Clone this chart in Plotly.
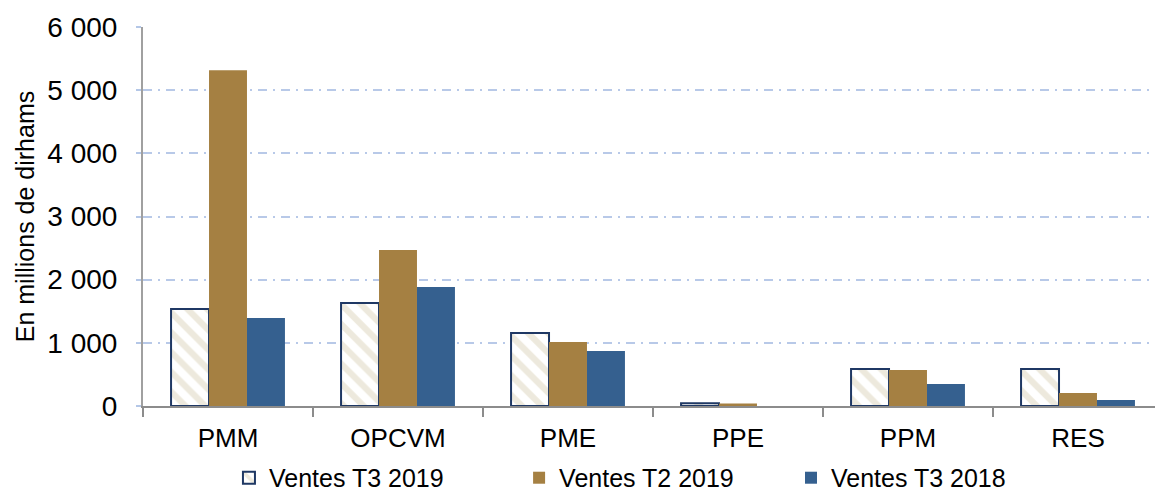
import plotly.graph_objects as go

categories = ["PMM", "OPCVM", "PME", "PPE", "PPM", "RES"]
ventes_t3_2019 = [1535, 1630, 1155, 45, 585, 585]
ventes_t2_2019 = [5316, 2468, 1013, 40, 570, 205]
ventes_t3_2018 = [1392, 1883, 870, 0, 348, 95]
y_ticks = [0, 1000, 2000, 3000, 4000, 5000, 6000]

FONT = "Liberation Sans, Arial, sans-serif"

fig = go.Figure()
fig.add_trace(go.Bar(
    x=categories, y=ventes_t3_2019, name="Ventes T3 2019", legend="legend",
    marker=dict(color="white", line=dict(color="#1f3864", width=2),
                pattern=dict(shape="\\", fgcolor="#dcd4bb", bgcolor="white", size=14, solidity=0.45)),
))
fig.add_trace(go.Bar(
    x=categories, y=ventes_t2_2019, name="Ventes T2 2019", legend="legend2",
    marker=dict(color="#a58042", line=dict(width=0)),
))
fig.add_trace(go.Bar(
    x=categories, y=ventes_t3_2018, name="Ventes T3 2018", legend="legend3",
    marker=dict(color="#35608f", line=dict(width=0)),
))

leg_common = dict(orientation="h", xanchor="left", xref="container",
                  yref="container", y=0.029, yanchor="middle",
                  font=dict(size=25), itemwidth=30, bgcolor="rgba(0,0,0,0)")

fig.update_layout(
    width=1155, height=484,
    margin=dict(l=135, r=0, t=19, b=86, autoexpand=False),
    plot_bgcolor="white", paper_bgcolor="white",
    barmode="group", bargap=0.33, bargroupgap=0,
    separators=", ",
    font=dict(family=FONT, size=24, color="#000000"),
    showlegend=True,
    legend=dict(x=0.1913, **leg_common),
    legend2=dict(x=0.4425, **leg_common),
    legend3=dict(x=0.6779, **leg_common),
    xaxis=dict(
        showline=True, linecolor="#8c8c8c", linewidth=2, automargin=False,
        ticks="outside", tickson="boundaries", ticklen=9, tickcolor="#8c8c8c", tickwidth=2,
        tickfont=dict(size=26), showgrid=False, ticklabelstandoff=8,
    ),
    yaxis=dict(
        range=[0, 6000], tickvals=y_ticks, tickformat=",d", automargin=False,
        showline=True, linecolor="#a0a0a0", linewidth=2,
        ticks="outside", ticklen=5, tickcolor="#b4c7e7", tickwidth=2,
        showgrid=True, gridcolor="#b8c9e8", griddash="9px,6px,2px,6px", gridwidth=1.5,
        zeroline=False, ticklabelstandoff=13,
        title=dict(text="En millions de dirhams", font=dict(size=25), standoff=6),
        tickfont=dict(size=28),
    ),
)

fig.write_html("out.html")
